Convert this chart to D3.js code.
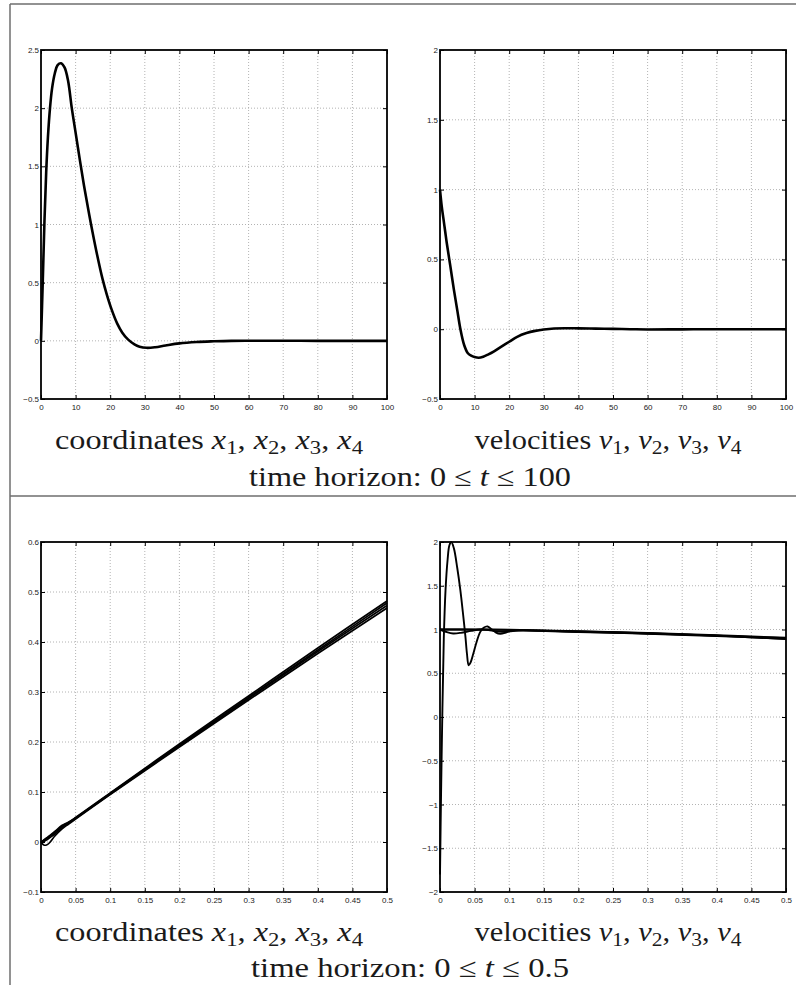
<!DOCTYPE html>
<html>
<head>
<meta charset="utf-8">
<script src="https://cdn.jsdelivr.net/npm/d3@7"></script>
<style>
    body { margin: 0; background: #fff; }
    svg { display: block; }
    .tick text { font-family: "Liberation Sans", Arial, sans-serif; font-size: 8px; fill: #222; }
    .tick line { stroke: #000; }
    .grid line { stroke: #a0a0a0; stroke-width: 0.8; stroke-dasharray: 1,2; }
    .caption { font-family: "Liberation Serif", "Times New Roman", serif; font-size: 27px; fill: #1a1a1a; }
    .frame { stroke: #6e6e6e; stroke-width: 1.5; }
</style>
</head>
<body>
<svg id="fig" width="796" height="985"></svg>
<script>
// --- Data ---

// long horizon, 0 <= t <= 100 : all four coordinates / velocities coincide
const tCoordLong = [0, 0.5, 1, 1.5, 2, 2.6, 3.2, 4, 4.8, 5.8, 6.8, 7.8, 8.9, 10, 11.2, 12.4, 13.6, 14.4, 16, 17.8, 19, 20.4, 22, 23.5, 25.2, 27, 28.5, 30.5, 33, 36, 40, 45, 50, 55, 60, 70, 80, 90, 100];
const coordLong = [0, 0.5, 1.03, 1.45, 1.75, 2.0, 2.17, 2.3, 2.37, 2.386, 2.35, 2.24, 2.0, 1.79, 1.56, 1.34, 1.14, 1.01, 0.77, 0.53, 0.4, 0.27, 0.15, 0.07, 0.01, -0.03, -0.05, -0.06, -0.055, -0.04, -0.022, -0.01, -0.004, 0, 0.001, 0.001, 0, 0, 0];

const tVelLong = [0, 0.5, 1, 1.5, 2, 3, 4, 5, 5.9, 7, 8, 9, 10, 11.2, 12.5, 14, 15.5, 17.4, 20, 22.3, 25, 27.5, 30, 33, 36, 40, 45, 50, 55, 60, 70, 80, 100];
const velLong = [1.0, 0.88, 0.79, 0.7, 0.61, 0.45, 0.285, 0.135, 0.0, -0.115, -0.17, -0.19, -0.2, -0.205, -0.197, -0.18, -0.16, -0.13, -0.09, -0.055, -0.028, -0.012, -0.002, 0.005, 0.007, 0.006, 0.004, 0.002, 0, -0.002, -0.001, 0, 0];

// short horizon, 0 <= t <= 0.5
const tCoordShort = [0, 0.004, 0.008, 0.012, 0.02, 0.03, 0.04, 0.05, 0.1, 0.2, 0.3, 0.4, 0.5];
const x1Short = [0, 0.004, 0.008, 0.012, 0.021, 0.033, 0.040, 0.049, 0.098, 0.196, 0.292, 0.388, 0.482];
const x2Short = [0, 0.003, 0.007, 0.011, 0.019, 0.031, 0.039, 0.048, 0.097, 0.194, 0.289, 0.384, 0.478];
const x3Short = [0, 0.001, 0.004, 0.008, 0.016, 0.029, 0.038, 0.047, 0.096, 0.192, 0.287, 0.381, 0.473];
const x4Short = [0, -0.006, -0.006, -0.002, 0.012, 0.026, 0.036, 0.046, 0.095, 0.190, 0.284, 0.377, 0.468];

const tV1Short = [0, 0.0015, 0.0035, 0.0055, 0.008, 0.011, 0.0135, 0.0163, 0.02, 0.025, 0.0294, 0.033, 0.0366, 0.039, 0.0414, 0.044, 0.048, 0.053, 0.058, 0.063, 0.0688, 0.075, 0.081, 0.087, 0.094, 0.1, 0.11, 0.12, 0.2, 0.3, 0.4, 0.5];
const v1Short = [-1.8, -0.9, 0.1, 0.9, 1.45, 1.8, 1.96, 2.0, 1.93, 1.7, 1.45, 1.2, 0.93, 0.72, 0.59, 0.62, 0.72, 0.86, 0.97, 1.02, 1.035, 1.0, 0.965, 0.952, 0.962, 0.98, 0.99, 0.99, 0.972, 0.952, 0.925, 0.895];
const tV2Short = [0, 0.01, 0.019, 0.03, 0.045, 0.058, 0.07, 0.08, 0.09, 0.1, 0.12, 0.2, 0.3, 0.4, 0.5];
const v2Short = [1.0, 0.97, 0.955, 0.962, 0.985, 1.0, 0.995, 0.98, 0.975, 0.98, 0.99, 0.975, 0.955, 0.93, 0.9];
const tV34Short = [0, 0.05, 0.1, 0.2, 0.3, 0.4, 0.5];
const v3Short = [1.0, 1.0, 0.998, 0.98, 0.96, 0.935, 0.905];
const v4Short = [1.0, 0.999, 0.995, 0.977, 0.957, 0.93, 0.89];

// tick labels
const xTicksLong = [0, 10, 20, 30, 40, 50, 60, 70, 80, 90, 100];
const xTicksShort = [0, 0.05, 0.1, 0.15, 0.2, 0.25, 0.3, 0.35, 0.4, 0.45, 0.5];
const yTicksCoordLong = [-0.5, 0, 0.5, 1, 1.5, 2, 2.5];
const yTicksVelLong = [-0.5, 0, 0.5, 1, 1.5, 2];
const yTicksCoordShort = [-0.1, 0, 0.1, 0.2, 0.3, 0.4, 0.5, 0.6];
const yTicksVelShort = [-2, -1.5, -1, -0.5, 0, 0.5, 1, 1.5, 2];

// captions
const captionNames = ["coordinates", "velocities"];
const captionVars = ["x", "v"];
const captionIdx = [1, 2, 3, 4];
const horizons = ["100", "0.5"];

// --- Setup ---
const svg = d3.select("#fig");
svg.append("rect").attr("width", 796).attr("height", 985).attr("fill", "#fff");

const zip = (ts, vs) => ts.map((t, i) => ({ t: t, v: vs[i] }));
const fmt = d => String(d).replace("-", "\u2212");

// --- Frame of the table ---
svg.append("line").attr("class", "frame").attr("x1", 10).attr("y1", 4).attr("x2", 796).attr("y2", 4);
svg.append("line").attr("class", "frame").attr("x1", 10).attr("y1", 4).attr("x2", 10).attr("y2", 985);
svg.append("line").attr("class", "frame").attr("x1", 10).attr("y1", 496).attr("x2", 796).attr("y2", 496);

// --- Panel drawing ---
function drawPanel(p) {
    const x = d3.scaleLinear().domain(p.xDomain).range([p.left, p.right]);
    const y = d3.scaleLinear().domain(p.yDomain).range([p.bottom, p.top]);
    const g = svg.append("g");

    // Grid (dotted, inner ticks only)
    const grid = g.append("g").attr("class", "grid");
    grid.selectAll(".gx").data(p.xTicks.slice(1, -1)).join("line")
        .attr("x1", d => x(d)).attr("x2", d => x(d)).attr("y1", p.top).attr("y2", p.bottom);
    grid.selectAll(".gy").data(p.yTicks.slice(1, -1)).join("line")
        .attr("y1", d => y(d)).attr("y2", d => y(d)).attr("x1", p.left).attr("x2", p.right);

    // Axes, ticks pointing inward on all four sides
    g.append("g").attr("transform", `translate(0,${p.bottom})`)
        .call(d3.axisBottom(x).tickValues(p.xTicks).tickFormat(fmt).tickSizeInner(-4).tickSizeOuter(0).tickPadding(5));
    g.append("g").attr("transform", `translate(${p.left},0)`)
        .call(d3.axisLeft(y).tickValues(p.yTicks).tickFormat(fmt).tickSizeInner(-4).tickSizeOuter(0).tickPadding(2));
    g.append("g").attr("transform", `translate(0,${p.top})`)
        .call(d3.axisTop(x).tickValues(p.xTicks).tickFormat("").tickSizeInner(-4).tickSizeOuter(0));
    g.append("g").attr("transform", `translate(${p.right},0)`)
        .call(d3.axisRight(y).tickValues(p.yTicks).tickFormat("").tickSizeInner(-4).tickSizeOuter(0));
    g.selectAll(".domain").remove();

    // Curves
    const line = d3.line().x(d => x(d.t)).y(d => y(d.v)).curve(d3.curveCatmullRom.alpha(0.5));
    g.selectAll(".curve").data(p.series).join("path")
        .attr("class", "curve")
        .attr("d", line)
        .attr("fill", "none")
        .attr("stroke", "#000")
        .attr("stroke-width", p.lineWidth)
        .attr("stroke-linejoin", "round");

    // Box
    g.append("rect")
        .attr("x", p.left).attr("y", p.top)
        .attr("width", p.right - p.left).attr("height", p.bottom - p.top)
        .attr("fill", "none").attr("stroke", "#000").attr("stroke-width", 1.8);
}

const colL = { left: 41, right: 387 };
const colR = { left: 440, right: 786 };
const rowT = { top: 50, bottom: 399 };
const rowB = { top: 542, bottom: 892 };

drawPanel({ ...colL, ...rowT, xDomain: [0, 100], yDomain: [-0.5, 2.5], xTicks: xTicksLong, yTicks: yTicksCoordLong,
    lineWidth: 2.6, series: [zip(tCoordLong, coordLong)] });
drawPanel({ ...colR, ...rowT, xDomain: [0, 100], yDomain: [-0.5, 2], xTicks: xTicksLong, yTicks: yTicksVelLong,
    lineWidth: 2.6, series: [zip(tVelLong, velLong)] });
drawPanel({ ...colL, ...rowB, xDomain: [0, 0.5], yDomain: [-0.1, 0.6], xTicks: xTicksShort, yTicks: yTicksCoordShort,
    lineWidth: 1.7, series: [x1Short, x2Short, x3Short, x4Short].map(s => zip(tCoordShort, s)) });
drawPanel({ ...colR, ...rowB, xDomain: [0, 0.5], yDomain: [-2, 2], xTicks: xTicksShort, yTicks: yTicksVelShort,
    lineWidth: 1.9, series: [zip(tV1Short, v1Short), zip(tV2Short, v2Short), zip(tV34Short, v3Short), zip(tV34Short, v4Short)] });

// --- Captions ---
function caption(xc, yb, width, build) {
    const t = svg.append("text").attr("class", "caption")
        .attr("x", xc).attr("y", yb).attr("text-anchor", "middle")
        .attr("textLength", width).attr("lengthAdjust", "spacingAndGlyphs");
    build(t);
}

function varCaption(name, v) {
    return t => {
        t.append("tspan").text(name + " ");
        captionIdx.forEach((k, i) => {
            t.append("tspan").attr("font-style", "italic").text(v);
            t.append("tspan").attr("font-size", "19px").attr("dy", 5).text(k);
            t.append("tspan").attr("dy", -5).text(i < captionIdx.length - 1 ? ", " : "");
        });
    };
}

function horizonCaption(h) {
    return t => {
        t.append("tspan").text("time horizon:  0 \u2264 ");
        t.append("tspan").attr("font-style", "italic").text("t");
        t.append("tspan").text(" \u2264 " + h);
    };
}

[[449, 486, horizons[0]], [941, 977, horizons[1]]].forEach(([yc, yh, h]) => {
    caption(209, yc, 308, varCaption(captionNames[0], captionVars[0]));
    caption(608, yc, 267, varCaption(captionNames[1], captionVars[1]));
    caption(410, yh, h === "100" ? 322 : 318, horizonCaption(h));
});
</script>
</body>
</html>
